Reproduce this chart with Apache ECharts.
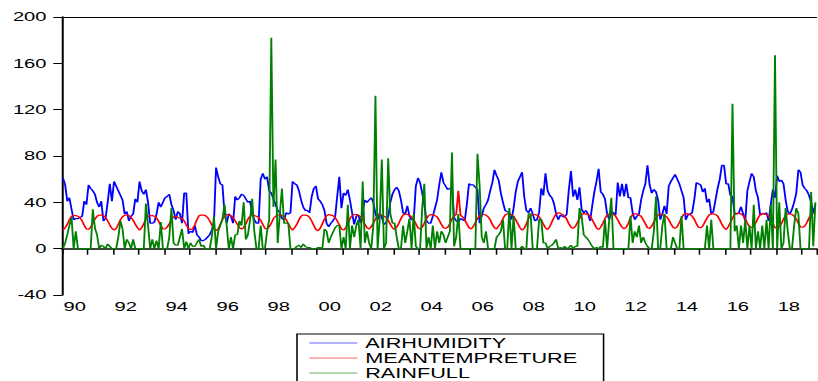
<!DOCTYPE html>
<html>
<head>
<meta charset="utf-8">
<title>AIRHUMIDITY / MEANTEMPRETURE / RAINFULL</title>
<script src="https://cdn.jsdelivr.net/npm/echarts@6/dist/echarts.min.js"></script>
<style>
    html, body { margin: 0; padding: 0; background: #fff; overflow: hidden; }
    /* the source picture is an EViews graph stretched sideways, so the chart is drawn narrow and widened */
    #main { width: 528px; height: 381px; transform-origin: 0 0; transform: scaleX(1.549242); }
</style>
</head>
<body>
<div id="main"></div>
<script>
'use strict';

// monthly data, 1990M01 .. 2019M07
var START_YEAR = 1990;
var N_MONTHS = 355;

// y axis ticks
var Y_MIN = -40;
var Y_MAX = 200;
var Y_STEP = 40;

var seriesNames = ['AIRHUMIDITY', 'MEANTEMPRETURE', 'RAINFULL'];

var airHumidity = [
    61, 55, 41, 44, 34, 25, 26, 26, 27, 28, 41, 38, // 1990
    55, 52, 50, 47, 40, 36, 41, 24, 26, 40, 56, 41, // 1991
    58, 54, 50, 46, 42, 30, 32, 24, 28, 30, 43, 40, // 1992
    58, 50, 47, 51, 40, 22, 22, 23, 30, 40, 36, 40, // 1993
    44, 45, 47, 38, 33, 25, 32, 30, 22, 48, 48, 13, // 1994
    15, 14, 20, 12, 10, 7, 7, 8, 10, 12, 16, 22,    // 1995
    70, 62, 56, 55, 30, 22, 30, 28, 22, 45, 42, 44, // 1996
    47, 46, 43, 40, 41, 30, 25, 22, 22, 60, 65, 60, // 1997
    62, 50, 48, 43, 38, 33, 31, 26, 25, 31, 30, 31, // 1998
    58, 56, 55, 50, 42, 36, 33, 33, 31, 45, 52, 54, // 1999
    43, 41, 38, 33, 22, 19, 22, 24, 27, 45, 62, 35, // 2000
    48, 46, 51, 42, 31, 21, 28, 29, 22, 32, 42, 40, // 2001
    42, 44, 40, 30, 25, 31, 27, 21, 22, 28, 40, 47, // 2002
    51, 53, 50, 42, 31, 30, 37, 28, 25, 25, 54, 61, // 2003
    57, 48, 38, 24, 22, 22, 28, 35, 42, 55, 66, 57, // 2004
    54, 51, 52, 53, 27, 24, 23, 26, 25, 24, 38, 56, // 2005
    55, 55, 53, 51, 22, 28, 35, 38, 42, 50, 57, 68, // 2006
    63, 59, 48, 40, 33, 32, 31, 25, 35, 49, 58, 62, // 2007
    66, 45, 33, 31, 35, 30, 24, 25, 31, 52, 46, 65, // 2008
    50, 46, 44, 39, 30, 25, 29, 28, 27, 30, 51, 67, // 2009
    45, 51, 42, 53, 34, 31, 33, 30, 24, 37, 49, 58, // 2010
    69, 49, 47, 43, 30, 25, 32, 31, 29, 57, 45, 56, // 2011
    45, 56, 44, 44, 31, 25, 28, 30, 42, 50, 56, 72, // 2012
    55, 48, 51, 49, 42, 25, 30, 37, 30, 54, 58, 61, // 2013
    64, 60, 56, 50, 44, 25, 29, 30, 31, 42, 57, 56, // 2014
    55, 49, 52, 40, 43, 30, 32, 42, 52, 60, 72, 72, // 2015
    56, 56, 46, 45, 30, 30, 31, 36, 30, 24, 50, 58, // 2016
    65, 62, 50, 44, 29, 30, 30, 31, 24, 38, 51, 44, // 2017
    63, 58, 59, 56, 42, 32, 30, 34, 40, 48, 68, 66, // 2018
    55, 52, 50, 46, 40, 31, 38                      // 2019
];

var meanTempreture = [
    16, 18, 21, 25, 28, 28.5, 28.5, 28, 26.5, 24, 20, 17,         // 1990
    16.5, 18.5, 22, 25.5, 28, 29, 29, 28.5, 27, 24, 20.5, 17.5,   // 1991
    16, 17.5, 21, 25, 27.5, 29, 29, 28.5, 27, 24.5, 21, 18,       // 1992
    16, 18, 21.5, 25.5, 28, 28.5, 28.5, 28, 26.5, 23.5, 20, 17,   // 1993
    17, 18.5, 21.5, 25, 27.5, 28, 27, 26.5, 26, 24, 20.5, 17.5,   // 1994
    16.5, 17, 20.5, 25, 28.5, 29, 29, 28.5, 27, 24, 20.5, 17,     // 1995
    15.5, 17, 21, 25, 28.5, 29.5, 29, 28.5, 27, 24, 21, 18,       // 1996
    17, 18, 21.5, 25.5, 28, 29, 28.5, 28, 27, 24.5, 21, 17.5,     // 1997
    17, 19, 22, 26, 28, 29, 29.5, 28.5, 27.5, 25, 21.5, 18,       // 1998
    16, 18, 21, 25, 28, 29, 29, 28.5, 27, 24, 20, 16.5,           // 1999
    15.5, 17.5, 21.5, 25.5, 28.5, 29.5, 29, 28.5, 27, 24, 20.5, 17, // 2000
    16, 18, 21.5, 26, 28.5, 29.5, 29.5, 29, 27.5, 25, 21, 18,     // 2001
    17, 19, 22, 25.5, 28, 29, 29, 28, 27, 24.5, 21, 18,           // 2002
    16.5, 18.5, 22, 26, 29, 30, 29.5, 29, 27.5, 25, 21.5, 18,     // 2003
    17, 18.5, 22, 26, 28.5, 29.5, 29, 28.5, 27.5, 24.5, 21, 18,   // 2004
    17.5, 18.5, 21.5, 25.5, 28, 29.5, 50, 29, 27.5, 25, 21.5, 18, // 2005
    17, 19, 22.5, 26, 28.5, 29.5, 29.5, 29, 27.5, 25, 21, 18,     // 2006
    17, 19.5, 22, 26, 29, 30, 30, 29, 28, 25, 21.5, 18,           // 2007
    16, 17.5, 21.5, 26, 28.5, 29.5, 29.5, 29, 27.5, 25, 21, 18,   // 2008
    16.5, 19, 23, 27, 30, 31, 30.5, 29.5, 28, 25.5, 21.5, 18.5,   // 2009
    17.5, 19, 22.5, 26, 29, 30.5, 30, 29.5, 28, 25, 21.5, 18,     // 2010
    16.5, 18.5, 22, 26, 29, 30, 30, 29.5, 28, 25, 21.5, 18.5,     // 2011
    17, 18.5, 22, 26.5, 29.5, 30, 30, 29, 28, 25, 21.5, 18,       // 2012
    17.5, 19.5, 23, 26.5, 29, 30, 29.5, 29, 27.5, 25, 21.5, 18.5, // 2013
    17.5, 19, 22.5, 26.5, 29.5, 30.5, 30, 29.5, 28, 25.5, 21.5, 18.5, // 2014
    18, 19.5, 23, 26.5, 29, 30, 30, 29.5, 28, 25, 21, 18,         // 2015
    16.5, 19, 22.5, 26.5, 29.5, 30.5, 30.5, 30, 28.5, 26, 22, 19, // 2016
    18, 19.5, 22.5, 26.5, 29.5, 30.5, 30, 29.5, 28, 25.5, 21.5, 18, // 2017
    17.5, 19, 21.5, 25.5, 29, 30, 30, 29.5, 28, 25.5, 22, 18.5,   // 2018
    18.5, 19.5, 22.5, 26.5, 29.5, 30.5, 30.5                      // 2019
];

var rainfall = [
    0, 5, 12, 20, 27, 0, 15, 0, 0, 0, 0, 0,         // 1990
    0, 0, 34, 18, 12, 0, 3, 2, 0, 4, 2, 0,          // 1991
    0, 0, 10, 24, 17, 0, 8, 5, 0, 8, 0, 0,          // 1992
    0, 0, 0, 39, 20, 0, 8, 0, 7, 0, 23, 0,          // 1993
    0, 0, 10, 35, 5, 3, 3, 10, 17, 0, 6, 0,         // 1994
    5, 2, 2, 5, 8, 2, 3, 0, 0, 0, 10, 28,           // 1995
    0, 15, 20, 26, 38, 20, 0, 10, 0, 12, 12, 24,    // 1996
    20, 40, 8, 12, 25, 43, 15, 0, 0, 20, 0, 0,      // 1997
    15, 25, 182, 36, 77, 5, 30, 52, 22, 22, 22, 0,  // 1998
    0, 0, 2, 3, 1, 4, 2, 1, 1, 0, 0, 0,             // 1999
    1, 1, 0, 17, 15, 5, 10, 14, 18, 20, 20, 0,      // 2000
    10, 0, 38, 0, 20, 10, 20, 25, 0, 58, 5, 15,     // 2001
    5, 0, 20, 132, 0, 25, 77, 0, 5, 78, 30, 22,     // 2002
    22, 10, 0, 0, 20, 5, 15, 26, 0, 30, 2, 0,       // 2003
    0, 35, 56, 0, 10, 0, 20, 0, 15, 5, 15, 12,      // 2004
    5, 10, 15, 83, 2, 10, 30, 0, 0, 0, 0, 0,        // 2005
    0, 0, 0, 82, 55, 10, 5, 15, 0, 0, 0, 0,         // 2006
    10, 12, 15, 25, 0, 0, 35, 0, 28, 0, 0, 0,       // 2007
    2, 0, 0, 30, 30, 0, 0, 0, 25, 25, 5, 5,         // 2008
    0, 2, 3, 5, 8, 0, 1, 0, 2, 0, 1, 3,             // 2009
    0, 2, 2, 35, 28, 12, 10, 8, 5, 2, 0, 1,         // 2010
    0, 2, 1, 25, 0, 25, 44, 0, 0, 0, 0, 0,          // 2011
    0, 0, 0, 28, 5, 15, 10, 20, 5, 10, 5, 2,        // 2012
    0, 0, 15, 45, 0, 0, 20, 30, 0, 0, 0, 10,        // 2013
    5, 0, 0, 28, 0, 0, 0, 0, 0, 0, 0, 0,            // 2014
    0, 0, 0, 20, 0, 25, 0, 0, 0, 0, 0, 0,           // 2015
    0, 0, 0, 125, 15, 20, 0, 20, 5, 25, 0, 20,      // 2016
    0, 38, 0, 15, 0, 20, 0, 25, 0, 38, 0, 167,      // 2017
    0, 40, 0, 5, 35, 15, 0, 0, 20, 35, 30, 0,       // 2018
    0, 0, 0, 0, 49, 2, 40                           // 2019
];

var seriesColors = ['#0000ff', '#ff0000', '#008000'];
var FONT = '"Liberation Sans", Arial, sans-serif';

// month categories like 1990M01
var months = [];
for (var i = 0; i < N_MONTHS; i++) {
    var yr = START_YEAR + Math.floor(i / 12);
    var mo = i % 12 + 1;
    months.push(yr + 'M' + (mo < 10 ? '0' + mo : mo));
}

// width of one month slot before the sideways stretch
var SLOT = (528 - 40 - 1) / N_MONTHS;

var chart = echarts.init(document.getElementById('main'), null, { renderer: 'svg' });

var option = {
    animation: false,
    backgroundColor: '#fff',
    grid: { left: 40, right: 1, top: 17, bottom: 86 },
    xAxis: [{
        type: 'category',
        data: months,
        boundaryGap: true,
        axisLine: { lineStyle: { color: '#000', width: 1.5 } },
        axisTick: {
            show: true,
            length: 6,
            lineStyle: { color: '#000', width: 1 },
            interval: function (index) { return index % 12 === 0; }
        },
        axisLabel: {
            interval: function (index) { return index % 24 === 5; },
            formatter: function (v) { return v.slice(2, 4); },
            margin: 5,
            color: '#000',
            fontFamily: FONT,
            fontSize: 13,
            padding: [0, 0, 0, SLOT]
        },
        splitLine: { show: false }
    }, {
        // only the thin frame line along the top
        type: 'category',
        data: months,
        position: 'top',
        axisLine: { lineStyle: { color: '#000', width: 1 } },
        axisTick: { show: false },
        axisLabel: { show: false }
    }],
    yAxis: {
        type: 'value',
        min: Y_MIN,
        max: Y_MAX,
        interval: Y_STEP,
        axisLine: { show: true, lineStyle: { color: '#000', width: 1.3 } },
        axisTick: { show: true, length: 5.6, lineStyle: { color: '#000', width: 1 } },
        axisLabel: { margin: 10, color: '#000', fontFamily: FONT, fontSize: 13 },
        splitLine: { show: false }
    },
    legend: {
        orient: 'vertical',
        left: 191.7,
        top: 334,
        width: 180,
        height: 60,
        padding: [2, 17, 20, 8],
        itemGap: 1,
        itemWidth: 31,
        itemHeight: 1,
        icon: 'rect',
        borderColor: '#000',
        borderWidth: 1,
        backgroundColor: '#fff',
        textStyle: { color: '#000', fontFamily: FONT, fontSize: 14, lineHeight: 14 },
        // the key lines are paler than the plotted ones
        data: seriesNames.map(function (n) {
            return { name: n, itemStyle: { opacity: 0.6 } };
        })
    },
    series: [
        { name: seriesNames[0], data: airHumidity },
        { name: seriesNames[1], data: meanTempreture },
        { name: seriesNames[2], data: rainfall }
    ].map(function (s, k) {
        return {
            name: s.name,
            type: 'line',
            data: s.data,
            symbol: 'none',
            color: seriesColors[k],
            lineStyle: { color: seriesColors[k], width: 1.2 },
            itemStyle: { color: seriesColors[k] }
        };
    })
};

chart.setOption(option);
</script>
</body>
</html>
